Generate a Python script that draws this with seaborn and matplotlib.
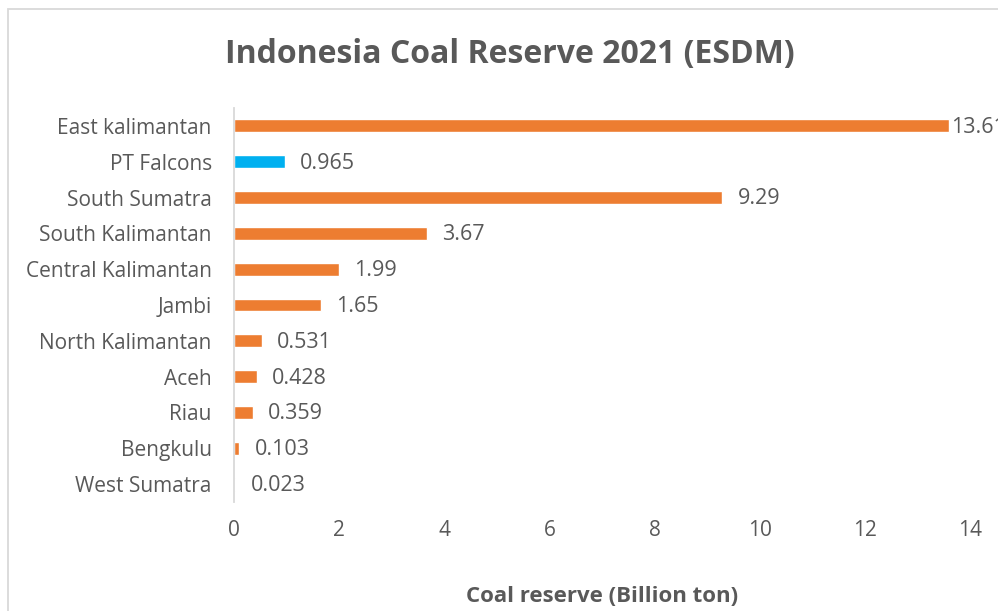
import matplotlib
matplotlib.use("Agg")
import matplotlib.pyplot as plt
import seaborn as sns
import pandas as pd
from matplotlib.patches import Rectangle

regions = ["East kalimantan", "PT Falcons", "South Sumatra", "South Kalimantan",
           "Central Kalimantan", "Jambi", "North Kalimantan", "Aceh", "Riau",
           "Bengkulu", "West Sumatra"]
reserves = [13.61, 0.965, 9.29, 3.67, 1.99, 1.65, 0.531, 0.428, 0.359, 0.103, 0.023]
labels = ["13.61", "0.965", "9.29", "3.67", "1.99", "1.65", "0.531", "0.428",
          "0.359", "0.103", "0.023"]
x_ticks = [0, 2, 4, 6, 8, 10, 12, 14]

sns.set_theme(style="white")
plt.rcParams['font.family'] = ['Open Sans', 'DejaVu Sans']

ORANGE = "#ED7D31"
BLUE = "#00B0F0"
TXT = "#595959"
GRID = "#D9D9D9"

df = pd.DataFrame({"region": regions, "reserve": reserves})
palette = {r: (BLUE if r == "PT Falcons" else ORANGE) for r in regions}

fig = plt.figure(figsize=(9.98, 6.11), dpi=100)
ax = fig.add_axes([234/998, 1-502/611, (970-234)/998, (502-108)/611])

sns.barplot(data=df, y="region", x="reserve", hue="region", palette=palette,
            order=regions, orient="h", width=0.36, legend=False, ax=ax,
            saturation=1)

ax.set_xlim(0, 14)
ax.set_ylim(len(regions)-0.5, -0.5)
ax.set_xticks(x_ticks)
ax.set_xticklabels([str(t) for t in x_ticks], fontsize=15, color=TXT)
ax.tick_params(axis='x', length=0, pad=13)
ax.tick_params(axis='y', which='major', length=0, pad=16, labelsize=15, labelcolor=TXT)
ax.set_yticks([i - 0.5 for i in range(len(regions)+1)], minor=True)
ax.tick_params(axis='y', which='minor', length=7, color=GRID, width=1.3, direction='out')

for s in ["top", "right", "bottom"]:
    ax.spines[s].set_visible(False)
ax.spines["left"].set_color(GRID)
ax.spines["left"].set_linewidth(1.3)

ax.set_ylabel("")
ax.set_xlabel("Coal reserve (Billion ton)", fontsize=16, fontweight="bold",
              color=TXT, labelpad=32)

for i, (v, lab) in enumerate(zip(reserves, labels)):
    off = 1 if v > 13 else 11
    ax.annotate(lab, xy=(v, i), xytext=(off, -1), textcoords="offset points",
                ha="left", va="center", fontsize=15.5, color=TXT, annotation_clip=False)

fig.text(510/998, 1-55/611, "Indonesia Coal Reserve 2021 (ESDM)", ha="center",
         va="center", fontsize=23, fontweight="bold", color=TXT)

fig.patches.append(Rectangle((8/998, -0.1), 1.2, (611-9)/611 + 0.1,
                             transform=fig.transFigure, fill=False,
                             edgecolor=GRID, linewidth=1.3, zorder=0))

fig.savefig("out.png", dpi=100)
